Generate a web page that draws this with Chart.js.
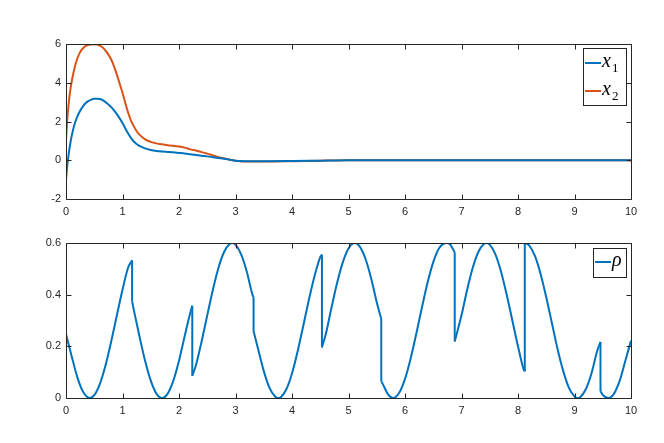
<!DOCTYPE html>
<html>
<head>
<meta charset="utf-8">
<script src="https://cdn.jsdelivr.net/npm/chart.js@4.4.1/dist/chart.umd.min.js"></script>
<style>
	body { margin: 0; background: #fff; }
	#wrap { position: relative; width: 664px; height: 443px; }
	canvas { position: absolute; left: 0; }
</style>
</head>
<body>
<div id="wrap">
	<canvas id="top-canvas" width="664" height="221" style="top:0;width:664px;height:221px"></canvas>
	<canvas id="bottom-canvas" width="664" height="222" style="top:221px;width:664px;height:222px"></canvas>
</div>
<script>
// top subplot: states x1, x2
const stateTime = [0, 0.025, 0.05, 0.075, 0.1, 0.15, 0.2, 0.25, 0.3, 0.35, 0.4, 0.45, 0.5, 0.55, 0.6, 0.65, 0.7, 0.75, 0.8, 0.85, 0.9, 0.95, 1.0, 1.05, 1.1, 1.15, 1.2, 1.25, 1.3, 1.4, 1.5, 1.6, 1.7, 1.8, 1.9, 2.0, 2.1, 2.2, 2.3, 2.4, 2.5, 2.6, 2.7, 2.8, 2.9, 3.0, 3.1, 3.2, 3.5, 4.0, 4.5, 5, 6, 7, 8, 9, 10];
const x1Values = [-1.0, -0.2, 0.35, 0.85, 1.25, 1.85, 2.25, 2.55, 2.78, 2.95, 3.06, 3.13, 3.17, 3.18, 3.16, 3.1, 3.0, 2.88, 2.74, 2.58, 2.38, 2.16, 1.92, 1.64, 1.38, 1.15, 0.97, 0.84, 0.74, 0.61, 0.53, 0.48, 0.45, 0.43, 0.41, 0.38, 0.35, 0.31, 0.27, 0.23, 0.2, 0.16, 0.12, 0.08, 0.03, -0.02, -0.04, -0.05, -0.05, -0.04, -0.02, 0, 0, 0, 0, 0, 0];
const x2Values = [1.0, 2.2, 3.0, 3.6, 4.05, 4.75, 5.25, 5.58, 5.78, 5.9, 5.96, 5.98, 5.99, 5.97, 5.92, 5.82, 5.66, 5.45, 5.2, 4.85, 4.42, 3.95, 3.48, 2.95, 2.45, 2.05, 1.76, 1.5, 1.32, 1.08, 0.95, 0.87, 0.82, 0.78, 0.75, 0.71, 0.65, 0.56, 0.5, 0.42, 0.34, 0.25, 0.16, 0.09, 0.03, -0.03, -0.06, -0.07, -0.07, -0.05, -0.02, 0, 0, 0, 0, 0, 0];

// bottom subplot: rho (a repeated time is a jump)
const rhoTime = [0, 0.1, 0.2, 0.3, 0.42, 0.5, 0.6, 0.7, 0.8, 0.9, 1.0, 1.1, 1.17, 1.17, 1.2, 1.3, 1.4, 1.5, 1.6, 1.7, 1.8, 1.9, 2.0, 2.1, 2.2, 2.235, 2.235, 2.3, 2.4, 2.5, 2.6, 2.7, 2.8, 2.9, 2.94, 3.0, 3.1, 3.2, 3.3, 3.32, 3.32, 3.4, 3.5, 3.6, 3.7, 3.76, 3.8, 3.9, 4.0, 4.1, 4.2, 4.3, 4.4, 4.5, 4.53, 4.53, 4.6, 4.7, 4.8, 4.9, 5.0, 5.11, 5.2, 5.3, 5.4, 5.5, 5.58, 5.58, 5.6, 5.7, 5.79, 5.9, 6.0, 6.1, 6.2, 6.3, 6.4, 6.5, 6.6, 6.7, 6.74, 6.8, 6.88, 6.88, 7.0, 7.1, 7.2, 7.3, 7.4, 7.44, 7.5, 7.6, 7.7, 7.8, 7.9, 8.0, 8.1, 8.12, 8.12, 8.2, 8.3, 8.4, 8.5, 8.6, 8.7, 8.8, 8.9, 9.0, 9.06, 9.1, 9.2, 9.3, 9.4, 9.46, 9.46, 9.5, 9.6, 9.7, 9.8, 9.9, 10];
const rhoValues = [0.248, 0.162, 0.081, 0.025, 0, 0.011, 0.055, 0.127, 0.219, 0.32, 0.419, 0.505, 0.533, 0.374, 0.341, 0.239, 0.144, 0.067, 0.017, 0, 0.017, 0.067, 0.144, 0.239, 0.33, 0.357, 0.086, 0.127, 0.219, 0.32, 0.419, 0.505, 0.566, 0.597, 0.6, 0.594, 0.556, 0.489, 0.4, 0.39, 0.258, 0.19, 0.105, 0.04, 0.006, 0, 0.003, 0.034, 0.095, 0.181, 0.28, 0.381, 0.473, 0.545, 0.555, 0.196, 0.249, 0.351, 0.447, 0.526, 0.579, 0.6, 0.586, 0.539, 0.464, 0.371, 0.306, 0.064, 0.057, 0.014, 0, 0.021, 0.074, 0.153, 0.249, 0.351, 0.447, 0.526, 0.579, 0.599, 0.6, 0.594, 0.564, 0.219, 0.32, 0.419, 0.505, 0.566, 0.597, 0.6, 0.594, 0.556, 0.489, 0.4, 0.3, 0.2, 0.111, 0.103, 0.6, 0.59, 0.55, 0.48, 0.39, 0.29, 0.19, 0.105, 0.04, 0.006, 0, 0.003, 0.034, 0.095, 0.181, 0.217, 0.026, 0.012, 0, 0.017, 0.067, 0.144, 0.222];

const timeTicks = [0, 1, 2, 3, 4, 5, 6, 7, 8, 9, 10];
const stateTicks = [-2, 0, 2, 4, 6];
const rhoTicks = [0, 0.2, 0.4, 0.6];

const BLUE = "#0072bd";
const ORANGE = "#d95319";
const AXIS = "#262626";
const MATH_FONT = '"Liberation Serif", "DejaVu Serif", serif';

const pairs = (xs, ys) => xs.map((x, i) => ({ x: x, y: ys[i] }));
const useTicks = (list) => (scale) => { scale.ticks = list.map((v) => ({ value: v })); };

// split rho at the jumps so each smooth piece gets its own curve,
// the jumps themselves are straight vertical pieces
function rhoDatasets() {
	const sets = [];
	let piece = [];
	rhoTime.forEach((t, i) => {
		if (i > 0 && t === rhoTime[i - 1]) {
			sets.push(piece);
			sets.push([piece[piece.length - 1], { x: t, y: rhoValues[i] }]);
			piece = [];
		}
		piece.push({ x: t, y: rhoValues[i] });
	});
	sets.push(piece);
	return sets.map((pts, k) => ({
		symbol: k === 0 ? "\u03c1" : null,
		sub: "",
		data: pts,
		borderColor: BLUE,
		borderWidth: 2,
		cubicInterpolationMode: "monotone",
	}));
}

// matlab style box with inward ticks on all sides
const axesFrame = {
	id: "axesFrame",
	afterDatasetsDraw(chart) {
		const { ctx, chartArea: a, scales } = chart;
		const L = Math.round(a.left) + 0.5, R = Math.round(a.right) + 0.5;
		const T = Math.round(a.top) + 0.5, B = Math.round(a.bottom) + 0.5;
		ctx.save();
		ctx.strokeStyle = AXIS;
		ctx.lineWidth = 1;
		ctx.beginPath();
		scales.x.ticks.forEach((t) => {
			const px = Math.round(scales.x.getPixelForValue(t.value)) + 0.5;
			ctx.moveTo(px, B); ctx.lineTo(px, B - 5);
			ctx.moveTo(px, T); ctx.lineTo(px, T + 5);
		});
		scales.y.ticks.forEach((t) => {
			const py = Math.round(scales.y.getPixelForValue(t.value)) + 0.5;
			ctx.moveTo(L, py); ctx.lineTo(L + 5, py);
			ctx.moveTo(R, py); ctx.lineTo(R - 5, py);
		});
		ctx.rect(L, T, R - L, B - T);
		ctx.stroke();
		ctx.restore();
	},
};

// legend with math-style labels (italic symbol + subscript)
const mathLegend = {
	id: "mathLegend",
	afterDraw(chart, args, o) {
		const ctx = chart.ctx;
		ctx.save();
		ctx.fillStyle = "#fff";
		ctx.fillRect(o.left, o.top, o.width, o.height);
		ctx.strokeStyle = AXIS;
		ctx.lineWidth = 1;
		ctx.strokeRect(o.left + 0.5, o.top + 0.5, o.width, o.height);
		chart.data.datasets.filter((ds) => ds.symbol).forEach((ds, i) => {
			const y = o.top + o.firstRow + i * o.rowStep;
			ctx.strokeStyle = ds.borderColor;
			ctx.lineWidth = 2;
			ctx.beginPath();
			ctx.moveTo(o.left + 2, y);
			ctx.lineTo(o.left + 18, y);
			ctx.stroke();
			ctx.fillStyle = "#000";
			ctx.textBaseline = "alphabetic";
			ctx.font = "italic 20px " + MATH_FONT;
			const tx = o.left + 19;
			ctx.fillText(ds.symbol, tx, y + 4);
			if (ds.sub) {
				const w = ctx.measureText(ds.symbol).width;
				ctx.font = "13px " + MATH_FONT;
				ctx.fillText(ds.sub, tx + w + 1, y + 9);
			}
		});
		ctx.restore();
	},
};

function axisOptions(min, max, ticks, labelPad, fitSize, isX) {
	return {
		type: "linear",
		min: min,
		max: max,
		afterBuildTicks: useTicks(ticks),
		grid: { display: false, drawTicks: false },
		border: { display: false },
		ticks: {
			color: AXIS,
			padding: labelPad,
			maxRotation: 0,
			autoSkip: false,
			font: { family: "Liberation Sans", size: 11 },
		},
		afterFit: (s) => { if (isX) s.height = fitSize; else s.width = fitSize; },
	};
}

const commonOptions = {
	responsive: false,
	animation: false,
	events: [],
	elements: { point: { radius: 0 } },
};

function drawCharts() {
	new Chart(document.getElementById("top-canvas").getContext("2d"), {
		type: "line",
		data: {
			datasets: [
				{ symbol: "x", sub: "1", data: pairs(stateTime, x1Values), borderColor: BLUE, borderWidth: 2, cubicInterpolationMode: "monotone" },
				{ symbol: "x", sub: "2", data: pairs(stateTime, x2Values), borderColor: ORANGE, borderWidth: 2, cubicInterpolationMode: "monotone" },
			],
		},
		options: {
			...commonOptions,
			layout: { padding: { top: 44, right: 33, left: 0, bottom: 0 } },
			scales: {
				x: axisOptions(0, 10, timeTicks, 6, 22, true),
				y: axisOptions(-2, 6, stateTicks, 5, 66, false),
			},
			plugins: {
				legend: { display: false },
				tooltip: { enabled: false },
				mathLegend: { left: 583, top: 48, width: 43, height: 57, firstRow: 15, rowStep: 28 },
			},
		},
		plugins: [axesFrame, mathLegend],
	});

	new Chart(document.getElementById("bottom-canvas").getContext("2d"), {
		type: "line",
		data: { datasets: rhoDatasets() },
		options: {
			...commonOptions,
			layout: { padding: { top: 22, right: 33, left: 0, bottom: 0 } },
			scales: {
				x: axisOptions(0, 10, timeTicks, 6, 45, true),
				y: axisOptions(0, 0.6, rhoTicks, 5, 66, false),
			},
			plugins: {
				legend: { display: false },
				tooltip: { enabled: false },
				mathLegend: { left: 593, top: 27, width: 33, height: 29, firstRow: 14, rowStep: 28 },
			},
		},
		plugins: [axesFrame, mathLegend],
	});
}

Promise.all([
	document.fonts.load("italic 20px " + MATH_FONT),
	document.fonts.load("13px " + MATH_FONT),
	document.fonts.load("11px Liberation Sans"),
]).catch(() => {}).then(drawCharts);
</script>
</body>
</html>
